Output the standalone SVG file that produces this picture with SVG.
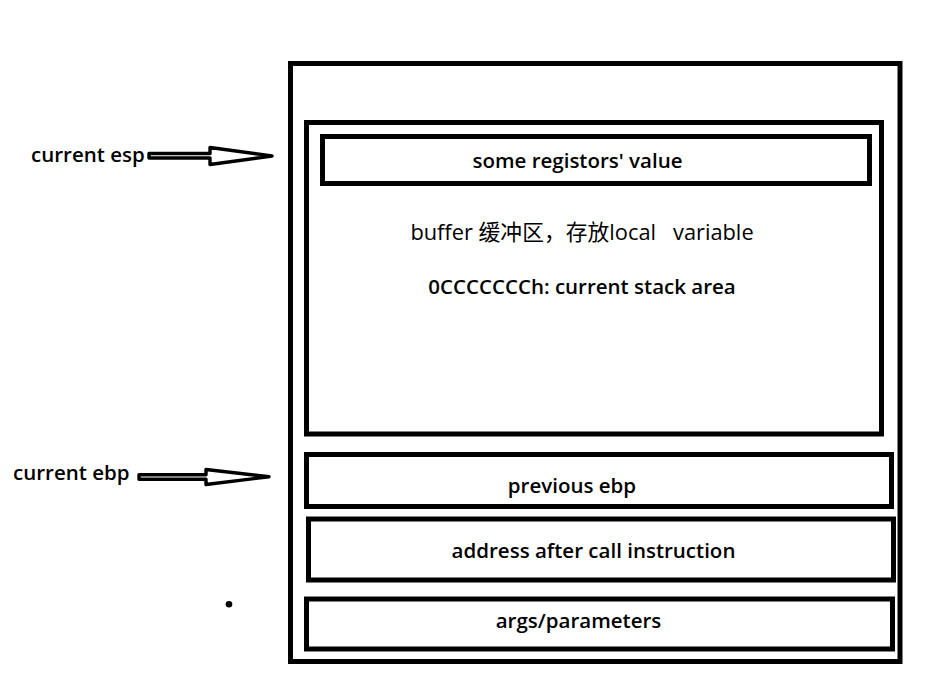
<svg xmlns="http://www.w3.org/2000/svg" width="936" height="683" viewBox="0 0 936 683">
<style>
.box{fill:none;stroke:#000;stroke-width:5}
.t{font-family:"Open Sans","Noto Sans CJK SC",sans-serif;font-size:20.5px;font-weight:600;fill:#000}
.r{font-weight:500;font-size:21.8px}
.cjk{font-weight:400}
.c{text-anchor:middle}
.arr{fill:#fff;stroke:#000;stroke-width:3.4;stroke-linejoin:round}
</style>
<rect width="936" height="683" fill="#fff"/>
<g id="stack-frame">
<rect class="box" x="290.5" y="63.5" width="609.5" height="598"/>
</g>
<g id="buffer-area">
<rect class="box" x="306.5" y="122.5" width="575" height="311.5"/>
<text class="t r c" x="582" y="239.5" xml:space="preserve">buffer <tspan class="cjk">缓冲区，存放</tspan>local   variable</text>
<text class="t c" x="582" y="293.5">0CCCCCCCh: current stack area</text>
</g>
<g id="registers">
<rect class="box" x="322.5" y="136.5" width="547" height="47"/>
<text class="t c" x="577.5" y="167.5">some registors' value</text>
</g>
<g id="previous-ebp">
<rect class="box" x="306.5" y="454.5" width="585" height="52"/>
<text class="t c" x="572" y="492.5">previous ebp</text>
</g>
<g id="return-address">
<rect class="box" x="308.5" y="519" width="585" height="61"/>
<text class="t c" x="593.5" y="557.5">address after call instruction</text>
</g>
<g id="args">
<rect class="box" x="306.5" y="599" width="586" height="50"/>
<text class="t c" x="578.5" y="627.5">args/parameters</text>
</g>
<g id="label-esp">
<text class="t" x="31" y="161.5">current esp</text>
</g>
<g id="label-ebp">
<text class="t" x="13" y="479.5">current ebp</text>
</g>
<circle cx="229" cy="604.3" r="3.3" fill="#000"/>
<g id="connectors">
<polygon class="arr" points="149,153.5 210,153.5 210,147.5 272,156 210,164.5 210,158 149,158"/>
<polygon class="arr" points="139,474.7 206,474.7 206,469.5 269,476.8 206,484.5 206,479.2 139,479.2"/>
</g>
</svg>
